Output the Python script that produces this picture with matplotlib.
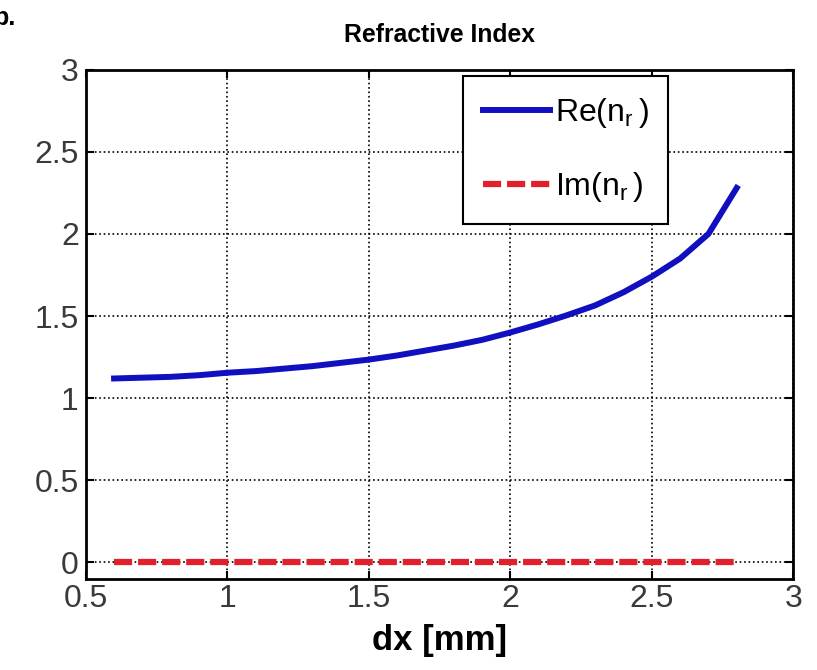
import matplotlib.pyplot as plt

plt.rcParams['font.family'] = ['Liberation Sans', 'DejaVu Sans']
plt.rcParams['mathtext.default'] = 'regular'

dx = [0.6, 0.7, 0.8, 0.9, 1.0, 1.1, 1.2, 1.3, 1.4, 1.5, 1.6, 1.7,
      1.8, 1.9, 2.0, 2.1, 2.2, 2.3, 2.4, 2.5, 2.6, 2.7, 2.8]
re_n = [1.12, 1.125, 1.13, 1.14, 1.155, 1.165, 1.18, 1.195, 1.215, 1.235,
        1.26, 1.29, 1.32, 1.355, 1.40, 1.45, 1.505, 1.565, 1.645, 1.74,
        1.85, 2.0, 2.28]
im_n = [0.0] * len(dx)

xticks = [0.5, 1, 1.5, 2, 2.5, 3]
xticklabels = ['0.5', '1', '1.5', '2', '2.5', '3']
yticks = [0, 0.5, 1, 1.5, 2, 2.5, 3]
yticklabels = ['0', '0.5', '1', '1.5', '2', '2.5', '3']

fig = plt.figure(figsize=(8.17, 6.70), dpi=100)
ax = fig.add_axes([0.105, 0.136, 0.866, 0.76])

ax.plot(dx, re_n, color='#1010c0', linewidth=4.3, label='Re(n$_{r}\\,$)')
ax.plot(dx, im_n, color='#e0202a', linewidth=4.5, linestyle=(0, (2.9, 0.95)),
        label='Im(n$_{r}\\,$)')

ax.set_xlim(0.5, 3)
ax.set_ylim(-0.1, 3)
ax.set_xticks(xticks)
ax.set_xticklabels(xticklabels)
ax.set_yticks(yticks)
ax.set_yticklabels(yticklabels)
ax.tick_params(direction='in', length=6, width=1.5, labelsize=23,
               top=True, right=True, labelcolor='#3a3a3a')
ax.tick_params(axis='x', pad=4)
ax.tick_params(axis='y', pad=5)
for s in ax.spines.values():
    s.set_linewidth(2)
ax.grid(True, linestyle=':', color='black', linewidth=1.2)

ax.set_title('Refractive Index', fontsize=17.8, fontweight='bold', pad=20)
ax.set_xlabel('dx [mm]', fontsize=25, fontweight='bold', labelpad=7)

leg = ax.legend(loc='upper left', bbox_to_anchor=(0.533, 0.987), fontsize=23,
                handlelength=2.1, handletextpad=0.15, borderpad=0.62,
                labelspacing=1.25, borderaxespad=0, fancybox=False,
                framealpha=1)
leg.get_frame().set_edgecolor('black')
leg.get_frame().set_linewidth(1.5)

fig.text(-0.008, 0.962, 'b.', fontsize=18, fontweight='bold')

plt.savefig('out.png')
